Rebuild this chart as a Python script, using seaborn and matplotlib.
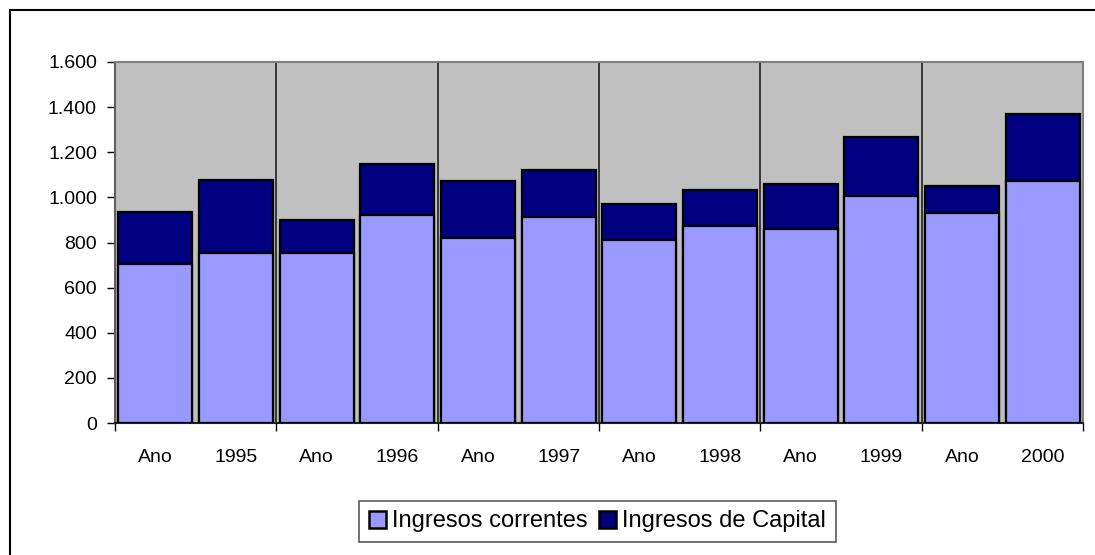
import matplotlib
matplotlib.use("Agg")
import matplotlib.pyplot as plt
import seaborn as sns
import pandas as pd
from matplotlib.patches import Rectangle, Patch
from matplotlib.ticker import FuncFormatter, FixedLocator

categories = ["Ano", "1995", "Ano", "1996", "Ano", "1997", "Ano", "1998", "Ano", "1999", "Ano", "2000"]
ingresos_correntes = [705, 752, 753, 920, 820, 911, 809, 871, 858, 1004, 932, 1074]
ingresos_capital = [230, 326, 145, 229, 251, 209, 161, 163, 201, 262, 118, 295]

sns.set_theme(style="white")
plt.rcParams['font.family'] = ['Liberation Sans', 'DejaVu Sans']

totals = [a + b for a, b in zip(ingresos_correntes, ingresos_capital)]
ids = [f"{i}" for i in range(len(categories))]
df = pd.DataFrame({"id": ids, "cat": categories, "corr": ingresos_correntes, "total": totals})

fig = plt.figure(figsize=(10.95, 5.55), dpi=100)
ax = fig.add_axes([115 / 1095, 1 - 423 / 555, (1083 - 115) / 1095, (423 - 62) / 555])
ax.set_facecolor("#C0C0C0")

lw = 1.6
sns.barplot(data=df, x="id", y="total", order=ids, color="#000080", saturation=1,
            width=0.92, edgecolor="black", linewidth=lw, ax=ax, zorder=3)
sns.barplot(data=df, x="id", y="corr", order=ids, color="#9999FF", saturation=1,
            width=0.92, edgecolor="black", linewidth=lw, ax=ax, zorder=3)

ax.set_xlim(-0.5, len(categories) - 0.5)
ax.set_ylim(0, 1600)
ax.set_xlabel("")
ax.set_ylabel("")

# major ticks at group boundaries, labels at bar centers
ax.xaxis.set_major_locator(FixedLocator([i - 0.5 for i in range(0, len(categories) + 1, 2)]))
ax.xaxis.set_minor_locator(FixedLocator(list(range(len(categories)))))
ax.set_xticklabels([], minor=False)
ax.set_xticklabels(categories, minor=True)
ax.tick_params(axis="x", which="major", direction="out", length=6, width=1, color="black", bottom=True)
ax.tick_params(axis="x", which="minor", length=0, pad=19, labelsize=14, labelcolor="black")

ax.set_yticks(range(0, 1601, 200))
ax.yaxis.set_major_formatter(FuncFormatter(lambda v, p: f"{int(v):,}".replace(",", ".")))
ax.tick_params(axis="y", direction="out", length=6, width=1, color="black", left=True, labelsize=14,
               labelcolor="black", pad=7)

for x in [1.5, 3.5, 5.5, 7.5, 9.5]:
    ax.axvline(x, color="#202020", linewidth=1.2, zorder=1)

ax.spines["left"].set_color("#606060")
ax.spines["bottom"].set_color("#202020")
ax.spines["top"].set_color("#808080")
ax.spines["right"].set_color("#808080")
for s in ax.spines.values():
    s.set_linewidth(1.5)
    s.set_visible(True)

handles = [Patch(facecolor="#9999FF", edgecolor="black", linewidth=1.8, label="Ingresos correntes"),
           Patch(facecolor="#000080", edgecolor="black", linewidth=1.8, label="Ingresos de Capital")]
leg = fig.legend(handles=handles, loc="center", bbox_to_anchor=(597.5 / 1095, 1 - 521.5 / 555), ncol=2,
                 frameon=True, fancybox=False, fontsize=17, handlelength=0.72, handleheight=0.72,
                 handletextpad=0.27, columnspacing=0.47, borderpad=0.42, borderaxespad=0)
leg.get_frame().set_edgecolor("#303030")
leg.get_frame().set_linewidth(1.2)
for t in leg.get_texts():
    t.set_color("black")

# chart outer border
fig.patches.append(Rectangle((10 / 1095, -0.05), 1.1, 1 - 10 / 555 + 0.05, transform=fig.transFigure,
                             fill=False, edgecolor="black", linewidth=1.5))

fig.savefig("out.png", dpi=100, facecolor="white")
